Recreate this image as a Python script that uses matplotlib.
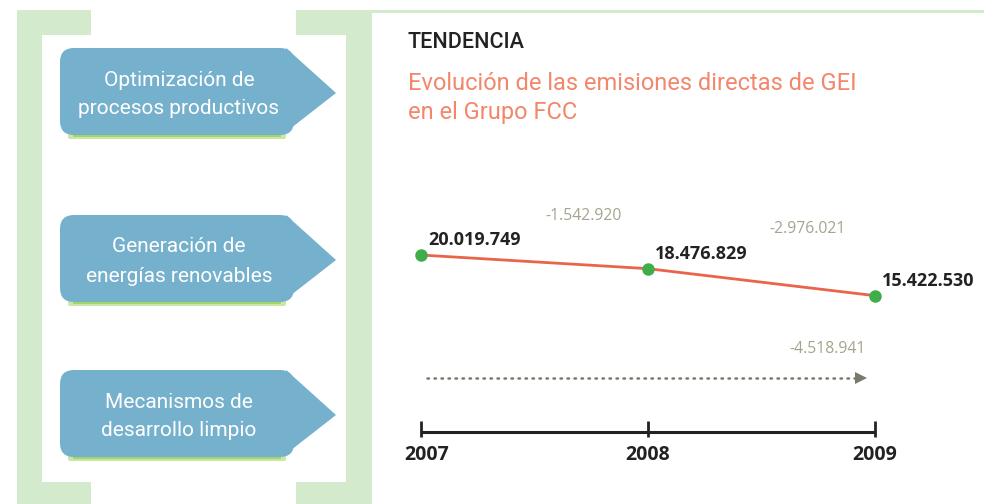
import matplotlib
matplotlib.use("Agg")
import matplotlib.pyplot as plt
from matplotlib.patches import Rectangle, FancyBboxPatch, Polygon
import matplotlib.transforms as mtransforms

# ---------------- data ----------------
years = [2007, 2008, 2009]
emissions = [20019749, 18476829, 15422530]
value_labels = ["20.019.749", "18.476.829", "15.422.530"]
diff_labels = ["-1.542.920", "-2.976.021"]
total_label = "-4.518.941"
box_lines = [["Optimización de", "procesos productivos"],
             ["Generación de", "energías renovables"],
             ["Mecanismos de", "desarrollo limpio"]]
section_title = "TENDENCIA"
chart_title_lines = ["Evolución de las emisiones directas de GEI", "en el Grupo FCC"]

# ---------------- style ----------------
W, H = 984, 504
DPI = 100
GREEN_LIGHT = "#D4EACD"
BOX_BLUE = "#75B1CC"
LINE_COL = "#E8654A"
MARK_COL = "#3FAE49"
GRAY_TXT = "#A6A48F"
ARROW_COL = "#7A7A68"
TITLE_COL = "#F2876C"
DARK = "#222222"
TFONT = ["Roboto", "DejaVu Sans"]
NFONT = ["Open Sans", "DejaVu Sans"]

fig = plt.figure(figsize=(W / DPI, H / DPI), dpi=DPI)
fig.patch.set_facecolor("white")

# background / decoration layer in pixel coords
bg = fig.add_axes([0, 0, 1, 1], zorder=0)
bg.set_xlim(0, W)
bg.set_ylim(H, 0)
bg.axis("off")

def rect(x0, y0, x1, y1, color, **kw):
    bg.add_patch(Rectangle((x0, y0), x1 - x0, y1 - y0, color=color, lw=0, **kw))

# left bracket
rect(17, 10, 42, 504, GREEN_LIGHT)
rect(17, 10, 91, 35, GREEN_LIGHT)
rect(17, 482, 91, 504, GREEN_LIGHT)
# right bracket
rect(346, 10, 372, 504, GREEN_LIGHT)
rect(296, 10, 372, 35, GREEN_LIGHT)
rect(296, 482, 372, 504, GREEN_LIGHT)
# top rule
rect(372, 10, W, 13, GREEN_LIGHT)

# boxes with arrows
box_tops = [48, 215, 370]
box_h = 87
bx0, bx1, tip = 60, 294, 336
r = 14
for top, lines in zip(box_tops, box_lines):
    # green glow under the box
    bg.add_patch(FancyBboxPatch((bx0 + 10, top + box_h - 3), bx1 - bx0 - 20, 5,
                                boxstyle="round,pad=2", color="#C9E8A6",
                                lw=0))
    bg.add_patch(FancyBboxPatch((bx0 + 14, top + box_h - 2), bx1 - bx0 - 28, 3,
                                boxstyle="round,pad=1", color="#A2D468",
                                lw=0))
    bg.add_patch(FancyBboxPatch((bx0 + r, top + r), bx1 - bx0 - 2 * r, box_h - 2 * r,
                                boxstyle=f"round,pad={r}", color=BOX_BLUE, lw=0))
    bg.add_patch(Polygon([(bx1 - 8, top), (tip, top + 45),
                          (bx1 - 8, top + box_h - 3)], closed=True,
                         color=BOX_BLUE, lw=0))
    bg.text(179, top + 32, lines[0], ha="center", va="center",
            color="white", fontsize=15, family=TFONT)
    bg.text(179, top + 61, lines[1], ha="center", va="center",
            color="white", fontsize=15, family=TFONT)

# titles
bg.text(408, 42, section_title, ha="left", va="center", fontsize=15.5,
        color=DARK, family=TFONT, fontweight="medium")
bg.text(408, 84, chart_title_lines[0], ha="left", va="center", fontsize=17,
        color=TITLE_COL, family=TFONT)
bg.text(408, 113, chart_title_lines[1], ha="left", va="center", fontsize=17,
        color=TITLE_COL, family=TFONT)

# ---------------- chart axes ----------------
px_left, px_right, px_top, px_bottom = 421, 875, 160, 432
ax = fig.add_axes([px_left / W, 1 - px_bottom / H,
                   (px_right - px_left) / W, (px_bottom - px_top) / H], zorder=2)
ax.patch.set_alpha(0)
ax.set_xlim(2007, 2009)
ymax = (px_bottom - px_top) / 8.84 * 1e6
ax.set_ylim(0, ymax)
fy = lambda p: (px_bottom - p) / (px_bottom - px_top)   # pixel row -> axes fraction
blend = mtransforms.blended_transform_factory(ax.transData, ax.transAxes)

ax.plot(years, emissions, color=LINE_COL, lw=2, zorder=3, clip_on=False)
ax.plot(years, emissions, "o", color=MARK_COL, ms=8, zorder=4, clip_on=False)

for x, y, lab in zip(years, emissions, value_labels):
    ax.annotate(lab, (x, y), xytext=(5, 10.5), textcoords="offset points",
                ha="left", va="center", fontsize=13, fontweight="bold",
                color=DARK, family=NFONT, annotation_clip=False)

# differences between years
diff_offsets = [(35, 33), (33, 38)]
for i, lab in enumerate(diff_labels):
    xm = (years[i] + years[i + 1]) / 2
    ym = (emissions[i] + emissions[i + 1]) / 2
    ax.annotate(lab, (xm, ym), xytext=diff_offsets[i], textcoords="offset points",
                ha="center", va="center", fontsize=11.3, color=GRAY_TXT,
                family=NFONT, annotation_clip=False)

# total change dotted arrow
ay = fy(378)
ax.plot([years[0] + 0.025, years[-1] - 0.075], [ay, ay], transform=blend,
        linestyle=(0, (0.6, 2.2)), dash_capstyle="round", lw=1.8,
        color=ARROW_COL, clip_on=False)
ax.plot([years[-1] - 0.06], [ay], transform=blend, marker=">", ms=8,
        color=ARROW_COL, mew=0, clip_on=False)
ax.text(years[-1] - 0.21, fy(349), total_label,
        transform=blend, ha="center", va="center", fontsize=11.3,
        color=GRAY_TXT, family=NFONT)

# timeline axis
for s in ["left", "right", "top"]:
    ax.spines[s].set_visible(False)
ax.spines["bottom"].set_color(DARK)
ax.spines["bottom"].set_linewidth(2.2)
ax.spines["bottom"].set_capstyle("butt")
ax.set_yticks([])
ax.vlines(years, fy(437), fy(421), transform=blend, color=DARK, lw=2,
          clip_on=False)
ax.set_xticks(years)
ax.set_xticklabels([str(y) for y in years], fontsize=14, fontweight="bold",
                   color=DARK, family=NFONT)
ax.tick_params(axis="x", length=0, pad=9)
# first year label sits slightly right of its tick in the reference
first = ax.get_xticklabels()[0]
first.set_transform(first.get_transform() +
                    mtransforms.ScaledTranslation(6 / DPI, 0, fig.dpi_scale_trans))

fig.savefig("out.png", dpi=DPI, facecolor="white")
